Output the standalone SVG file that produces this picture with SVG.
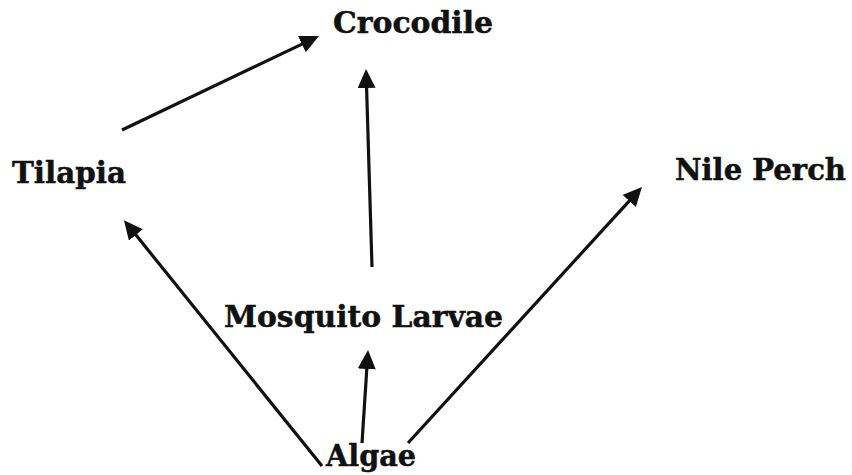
<svg xmlns="http://www.w3.org/2000/svg" width="852" height="475" viewBox="0 0 852 475">
<style>
.lbl{font-family:"DejaVu Serif","Liberation Serif",serif;font-weight:bold;font-size:29px;fill:#111;stroke:#111;stroke-width:0.5}
.edge{stroke:#111;stroke-width:3.2;fill:none;marker-end:url(#ah)}
</style>
<defs>
<marker id="ah" markerUnits="userSpaceOnUse" markerWidth="22" markerHeight="20" refX="3" refY="9" orient="auto">
<path d="M0,0 L19,9 L0,18 z" fill="#111"/>
</marker>
</defs>
<rect width="852" height="475" fill="#fff"/>
<g id="connectors">
<line class="edge" x1="122" y1="130" x2="304.6" y2="42.9"/>
<line class="edge" x1="372" y1="267" x2="366.5" y2="85"/>
<line class="edge" x1="322" y1="466" x2="134" y2="232.6"/>
<line class="edge" x1="362" y1="443" x2="367" y2="366"/>
<line class="edge" x1="408" y1="443" x2="631.2" y2="198.8"/>
</g>
<g id="crocodile"><text class="lbl" x="333" y="33" textLength="160" lengthAdjust="spacingAndGlyphs">Crocodile</text></g>
<g id="tilapia"><text class="lbl" x="12" y="183" textLength="114" lengthAdjust="spacingAndGlyphs">Tilapia</text></g>
<g id="nile-perch"><text class="lbl" x="675" y="180" textLength="171" lengthAdjust="spacingAndGlyphs">Nile Perch</text></g>
<g id="mosquito-larvae"><text class="lbl" x="224" y="327" textLength="279" lengthAdjust="spacingAndGlyphs">Mosquito Larvae</text></g>
<g id="algae"><text class="lbl" x="326" y="466" textLength="90" lengthAdjust="spacingAndGlyphs">Algae</text></g>
</svg>
